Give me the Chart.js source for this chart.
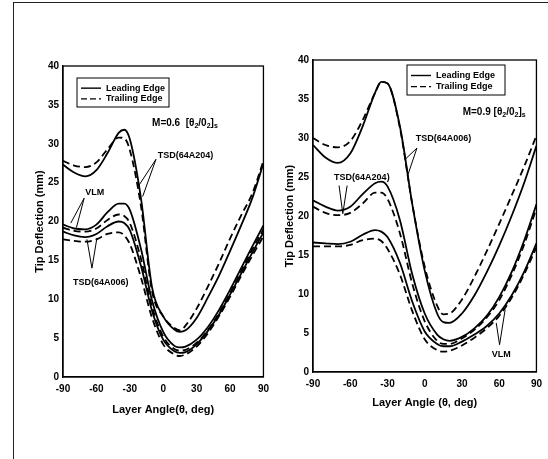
<!DOCTYPE html>
<html>
<head>
<meta charset="utf-8">
<script src="https://cdn.jsdelivr.net/npm/chart.js@4.4.0/dist/chart.umd.min.js"></script>
<style>
  body { margin: 0; background: #fff; }
  #page { position: relative; width: 548px; height: 459px; overflow: hidden; background: #fff; }
  #frame { position: absolute; left: 13px; top: 2px; width: 540px; height: 470px; border-left: 1px solid #222; border-top: 1px solid #222; }
  #left { position: absolute; left: 0; top: 0; }
  #right { position: absolute; left: 275px; top: 0; }
</style>
</head>
<body>
<div id="page">
  <div id="frame"></div>
  <canvas id="left" width="275" height="459"></canvas>
  <canvas id="right" width="273" height="459"></canvas>
</div>
<script>
// layer angle (deg)
var angles = [-90,-80,-70,-60,-50,-40,-35,-30,-20,-10,0,10,15,20,30,40,50,60,70,80,90];

// M = 0.6  tip deflection (mm)
var m06_tsd204_le = [27.3,26.3,25.8,26.6,28.8,31.4,31.8,30.6,23.0,11.5,7.8,6.1,5.8,6.0,7.6,10.2,13.0,16.2,19.5,23.0,27.5];
var m06_tsd204_te = [27.8,27.2,27.0,27.6,29.3,30.8,30.7,29.2,22.0,11.0,7.8,6.3,6.0,6.6,8.8,11.6,14.6,17.8,20.8,23.6,27.8];
var m06_vlm_le    = [19.6,19.1,19.0,19.6,21.2,22.3,22.3,21.5,16.5,9.8,5.8,4.0,3.8,3.9,4.8,6.4,8.6,11.2,14.0,16.8,19.5];
var m06_vlm_te    = [19.2,18.8,18.7,19.1,20.2,20.9,20.7,19.8,15.2,9.0,5.2,3.6,3.4,3.5,4.4,6.0,8.2,10.8,13.6,16.4,19.0];
var m06_tsd006_le = [18.7,18.2,18.0,18.4,19.4,20.0,19.8,18.9,14.3,8.5,4.8,3.3,3.1,3.2,4.2,5.9,8.0,10.6,13.3,16.0,18.6];
var m06_tsd006_te = [17.7,17.5,17.4,17.7,18.4,18.6,18.2,17.1,12.8,7.6,4.2,2.9,2.7,2.9,3.9,5.6,7.8,10.3,13.0,15.6,18.1];

// M = 0.9  tip deflection (mm)
var m09_tsd006_le = [29.1,27.5,26.8,28.0,31.5,35.8,37.2,37.0,31.5,21.5,13.0,7.5,6.4,6.3,7.5,9.8,12.8,16.2,20.0,24.2,29.0];
var m09_tsd006_te = [30.0,29.1,28.8,29.6,32.3,35.8,37.2,37.0,31.3,21.5,13.5,8.5,7.4,7.5,9.3,12.2,15.5,19.0,22.6,26.3,30.3];
var m09_tsd204_le = [22.0,21.2,20.7,21.2,22.8,24.2,24.4,23.8,19.5,12.5,7.5,4.8,4.2,4.0,4.5,5.6,7.2,9.6,12.8,16.8,21.5];
var m09_tsd204_te = [21.2,20.4,20.1,20.4,21.6,23.0,23.0,22.2,17.8,11.3,6.5,4.0,3.6,3.6,4.3,5.4,7.0,9.2,12.4,16.3,21.0];
var m09_vlm_le    = [16.6,16.5,16.4,16.7,17.6,18.2,18.0,17.3,14.0,9.0,5.2,3.6,3.3,3.3,3.9,4.8,5.9,7.5,9.8,12.8,16.5];
var m09_vlm_te    = [16.1,16.1,16.1,16.3,16.9,17.1,16.8,15.8,12.5,7.8,4.2,2.8,2.6,2.7,3.4,4.4,5.6,7.2,9.5,12.5,16.0];

var xTicks = [-90,-60,-30,0,30,60,90];
var legendNames = ['Leading Edge', 'Trailing Edge'];

var FONT = "'Liberation Sans', Arial, sans-serif";

function series(vals, dashed) {
  return {
    data: angles.map(function(a, i) { return {x: a, y: vals[i]}; }),
    borderColor: '#000',
    borderWidth: 1.8,
    borderDash: dashed ? [7, 4] : [],
    pointRadius: 0,
    fill: false,
    cubicInterpolationMode: 'monotone'
  };
}

function drawParts(ctx, px, py, parts, size) {
  var cx = px;
  parts.forEach(function(p) {
    var sub = p[1];
    ctx.font = 'bold ' + (sub ? size - 3 : size) + 'px ' + FONT;
    ctx.fillText(p[0], cx, sub ? py + 3 : py);
    cx += ctx.measureText(p[0]).width;
  });
}

var notesPlugin = {
  id: 'notes',
  afterDatasetsDraw: function(chart, args, opts) {
    var ctx = chart.ctx, a = chart.chartArea;
    var sx = chart.scales.x, sy = chart.scales.y;
    function P(pt) { return [sx.getPixelForValue(pt[0]), sy.getPixelForValue(pt[1])]; }
    ctx.save();
    ctx.strokeStyle = '#000';
    ctx.fillStyle = '#000';
    ctx.lineWidth = 1.3;
    ctx.setLineDash([]);
    ctx.strokeRect(a.left, a.top, a.width, a.height);

    // legend box
    var lg = opts.legend;
    var lx = a.left + lg.dx, ly = a.top + lg.dy;
    ctx.lineWidth = 1;
    ctx.strokeRect(lx, ly, lg.w, lg.h);
    ctx.textBaseline = 'middle';
    ctx.textAlign = 'left';
    ctx.font = 'bold 9px ' + FONT;
    legendNames.forEach(function(name, i) {
      var ry = ly + lg.h * (i === 0 ? 0.35 : 0.72);
      ctx.lineWidth = 1.4;
      ctx.setLineDash(i === 0 ? [] : [6, 3]);
      ctx.beginPath();
      ctx.moveTo(lx + 4, ry);
      ctx.lineTo(lx + 24, ry);
      ctx.stroke();
      ctx.setLineDash([]);
      ctx.fillText(name, lx + 29, ry);
    });

    // pointer triangles
    ctx.lineWidth = 1;
    (opts.pointers || []).forEach(function(p) {
      var ap = P(p.apex);
      p.ends.forEach(function(e) {
        var ep = P(e);
        ctx.beginPath();
        ctx.moveTo(ap[0], ap[1]);
        ctx.lineTo(ep[0], ep[1]);
        ctx.stroke();
      });
    });

    // labels
    (opts.texts || []).forEach(function(t) {
      var tp = P(t.at);
      drawParts(ctx, tp[0], tp[1], t.parts, t.size || 9);
    });
    ctx.restore();
  }
};

function makeChart(id, sets, cfg) {
  new Chart(document.getElementById(id), {
    type: 'line',
    data: { datasets: sets },
    plugins: [notesPlugin],
    options: {
      responsive: false,
      animation: false,
      layout: { padding: cfg.padding },
      plugins: {
        legend: { display: false },
        tooltip: { enabled: false },
        notes: cfg.notes
      },
      scales: {
        x: {
          type: 'linear', min: -90, max: 90,
          afterBuildTicks: function(s) { s.ticks = xTicks.map(function(v) { return {value: v}; }); },
          afterFit: function(s) { s.height = cfg.xHeight; },
          grid: { display: false, drawTicks: false },
          border: { display: true, color: '#000', width: 1.3 },
          ticks: { color: '#000', padding: 6, maxRotation: 0, font: { family: FONT, size: 10, weight: 'bold' } },
          title: { display: true, text: cfg.xTitle, color: '#000', padding: 0, font: { family: FONT, size: 11, weight: 'bold' } }
        },
        y: {
          min: 0, max: 40,
          afterFit: function(s) { s.width = 30; },
          grid: { display: false, drawTicks: false },
          border: { display: true, color: '#000', width: 1.3 },
          ticks: { stepSize: 5, color: '#000', padding: 4, font: { family: FONT, size: 10, weight: 'bold' } },
          title: { display: true, text: 'Tip Deflection (mm)', color: '#000', padding: 0, font: { family: FONT, size: 11, weight: 'bold' } }
        }
      }
    }
  });
}

makeChart('left', [
  series(m06_tsd204_le, false), series(m06_tsd204_te, true),
  series(m06_vlm_le, false), series(m06_vlm_te, true),
  series(m06_tsd006_le, false), series(m06_tsd006_te, true)
], {
  padding: { left: 33, top: 66, right: 11, bottom: 42 },
  xHeight: 40,
  xTitle: 'Layer Angle(θ, deg)',
  notes: {
    legend: { dx: 14, dy: 12, w: 92, h: 29 },
    texts: [
      { at: [-10, 32.6], size: 10, parts: [['M=0.6  [θ', 0], ['2', 1], ['/0', 0], ['2', 1], [']', 0], ['s', 1]] },
      { at: [-5, 28.5], parts: [['TSD(64A204)', 0]] },
      { at: [-70, 23.7], parts: [['VLM', 0]] },
      { at: [-81, 12.1], parts: [['TSD(64A006)', 0]] }
    ],
    pointers: [
      { apex: [-6.5, 28.0], ends: [[-22.5, 24.5], [-18.5, 23.2]] },
      { apex: [-71, 23.0], ends: [[-83, 19.8], [-78, 19.2]] },
      { apex: [-64, 14.0], ends: [[-68.5, 17.7], [-59.5, 17.9]] }
    ]
  }
});

makeChart('right', [
  series(m09_tsd006_le, false), series(m09_tsd006_te, true),
  series(m09_tsd204_le, false), series(m09_tsd204_te, true),
  series(m09_vlm_le, false), series(m09_vlm_te, true)
], {
  padding: { left: 8, top: 60, right: 0, bottom: 49 },
  xHeight: 38,
  xTitle: 'Layer Angle (θ, deg)',
  notes: {
    legend: { dx: 94, dy: 5, w: 98, h: 30 },
    texts: [
      { at: [30.6, 33.3], size: 10, parts: [['M=0.9 [θ', 0], ['2', 1], ['/0', 0], ['2', 1], [']', 0], ['s', 1]] },
      { at: [-7.2, 29.9], parts: [['TSD(64A006)', 0]] },
      { at: [-73, 24.9], parts: [['TSD(64A204)', 0]] },
      { at: [54, 2.3], parts: [['VLM', 0]] }
    ],
    pointers: [
      { apex: [-6.3, 28.7], ends: [[-16.2, 27.2], [-13.5, 25.3]] },
      { apex: [-66, 20.3], ends: [[-69, 23.9], [-62.5, 23.9]] },
      { apex: [60.3, 3.5], ends: [[57.6, 6.3], [64.8, 8.0]] }
    ]
  }
});
</script>
</body>
</html>
